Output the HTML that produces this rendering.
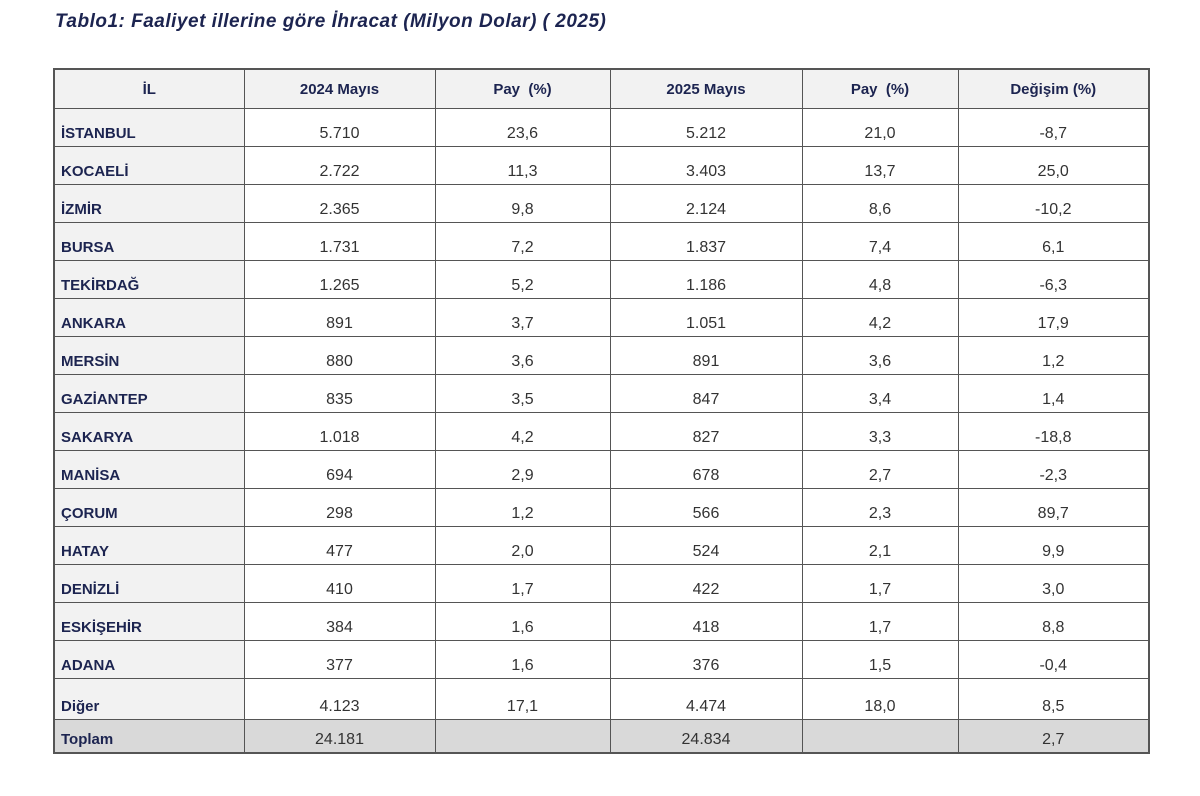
<!DOCTYPE html>
<html><head><meta charset="utf-8"><style>
body{margin:0;width:1200px;height:796px;background:#fff;font-family:"Liberation Sans",sans-serif;position:relative;overflow:hidden}
.title{position:absolute;left:55px;top:11px;font-size:19px;letter-spacing:0.5px;font-weight:bold;font-style:italic;color:#1c2450}
table{position:absolute;left:53px;top:68px;border-collapse:collapse;border:2px solid #555;table-layout:fixed}
td,th{border:1px solid #555;padding:0;font-size:16px;text-align:center;color:#333;font-family:"Liberation Sans",sans-serif;box-sizing:content-box}
th{background:#f2f2f2;color:#1c2450;font-weight:bold;height:38px;font-size:15px}
td{height:34px;vertical-align:bottom;padding-bottom:3px;line-height:18px}
td.il{background:#f2f2f2;text-align:left;padding-left:6px;color:#1c2450;font-weight:bold;font-size:15px}
tr.tot td{background:#d9d9d9;height:29px}
tr.dig td{height:37px}
</style></head><body>
<div class="title">Tablo1: Faaliyet illerine göre İhracat (Milyon Dolar) ( 2025)</div>
<table>
<colgroup><col style="width:190px"><col style="width:191px"><col style="width:175px"><col style="width:192px"><col style="width:156px"><col style="width:191px"></colgroup>
<thead><tr>
<th>İL</th>
<th>2024 Mayıs</th>
<th>Pay&nbsp; (%)</th>
<th>2025 Mayıs</th>
<th>Pay&nbsp; (%)</th>
<th>Değişim (%)</th>
</tr></thead>
<tbody id="tb"></tbody>
</table>
<script>
const provinces=["İSTANBUL","KOCAELİ","İZMİR","BURSA","TEKİRDAĞ","ANKARA","MERSİN","GAZİANTEP","SAKARYA","MANİSA","ÇORUM","HATAY","DENİZLİ","ESKİŞEHİR","ADANA","Diğer","Toplam"];
const v2024=["5.710","2.722","2.365","1.731","1.265","891","880","835","1.018","694","298","477","410","384","377","4.123","24.181"];
const pay2024=["23,6","11,3","9,8","7,2","5,2","3,7","3,6","3,5","4,2","2,9","1,2","2,0","1,7","1,6","1,6","17,1",""];
const v2025=["5.212","3.403","2.124","1.837","1.186","1.051","891","847","827","678","566","524","422","418","376","4.474","24.834"];
const pay2025=["21,0","13,7","8,6","7,4","4,8","4,2","3,6","3,4","3,3","2,7","2,3","2,1","1,7","1,7","1,5","18,0",""];
const change=["-8,7","25,0","-10,2","6,1","-6,3","17,9","1,2","1,4","-18,8","-2,3","89,7","9,9","3,0","8,8","-0,4","8,5","2,7"];
const tb=document.getElementById('tb');
provinces.forEach((p,i)=>{
  const tr=document.createElement('tr');
  
  
  if(p==='Toplam')tr.className='tot';
  if(p==='Diğer')tr.className='dig';
  [p,v2024[i],pay2024[i],v2025[i],pay2025[i],change[i]].forEach((t,j)=>{
    const td=document.createElement('td');
    
    
    if(j===0)td.className='il';
    td.textContent=t;
    tr.appendChild(td);
  });
  tb.appendChild(tr);
});
</script>
</body></html>
